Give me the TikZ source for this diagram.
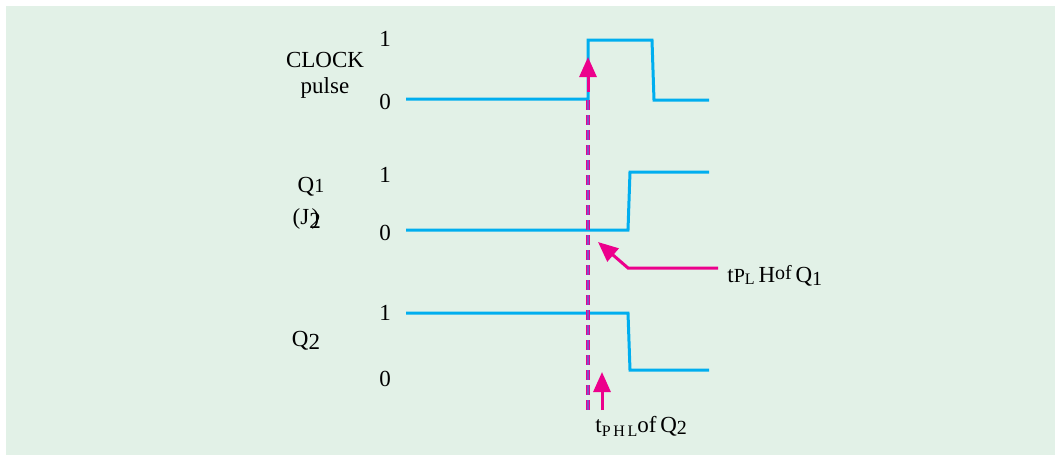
\documentclass[tikz,border=0pt]{standalone}
\usepackage{fontspec}
\setmainfont{Liberation Serif}
\usetikzlibrary{arrows.meta}
\definecolor{bg}{RGB}{226,241,231}
\definecolor{wave}{RGB}{0,174,239}
\definecolor{mag}{RGB}{236,0,140}
\definecolor{vio}{RGB}{130,80,200}
\newcommand{\smf}[1]{{\fontsize{8}{9}\selectfont #1}}
\newcommand{\mdf}[1]{{\fontsize{10}{11}\selectfont #1}}
\begin{document}
\begin{tikzpicture}[x=0.5pt,y=-0.5pt,
  lbl/.style={font=\fontsize{11.5}{13}\selectfont, inner sep=0pt},
  wavel/.style={wave, line width=1.5pt},
  marrow/.style={mag, line width=1.5pt, -{Triangle[width=8.5pt,length=10pt]}},
  dashmag/.style={mag, line width=1.6pt, dash pattern=on 5pt off 2.5pt},
  dashvio/.style={vio, line width=1pt, dash pattern=on 5pt off 2.5pt}]
\useasboundingbox (0,0) rectangle (1055,455);
\fill[bg] (6,6) rectangle (1055,455);
% labels
\node[lbl] (clk) at (325,60) {CLOCK};
\node[lbl] (pls) at (325,88) {pulse};
\node[lbl] (c1) at (385,39) {1};
\node[lbl] (c0) at (385,102) {0};
\node[lbl] (q1l) at (311,187) {Q\mdf{1}};
\node[lbl] (jl) at (306,219) {(J\raisebox{-0.35ex}{2}\kern-0.4em)};
\node[lbl] (a1) at (385,175) {1};
\node[lbl] (a0) at (385,233) {0};
\node[lbl] (q2l) at (306,341) {Q\raisebox{-0.3ex}{2}};
\node[lbl] (b1) at (385,313) {1};
\node[lbl] (b0) at (385,379) {0};
% waveforms
\draw[wavel] (406,99) -- (588,99) -- (588,40) -- (652,40) -- (654,100) -- (709,100);
\draw[wavel] (406,230) -- (628,230) -- (630,172) -- (709,172);
\draw[wavel] (406,313) -- (628,313) -- (630,370) -- (709,370);
% dashed reference
\coordinate (dtop) at (588,100);
\coordinate (dbot) at (588,413);
\draw[dashmag] (dtop) -- (dbot);
\draw[dashvio] (dtop) -- (dbot);
% arrows
\coordinate (ca0) at (588,92);
\coordinate (ca1) at (588,57);
\draw[marrow] (ca0) -- (ca1);
\coordinate (ra0) at (718,268);
\coordinate (ra1) at (628,268);
\coordinate (ra2) at (598,242);
\draw[marrow] (ra0) -- (ra1) -- (ra2);
\coordinate (ba0) at (602,410);
\coordinate (ba1) at (602,372);
\draw[marrow] (ba0) -- (ba1);
% annotation texts
\node[lbl, anchor=base west] (tplh) at (727,282) {t\mdf{P}\raisebox{-0.2ex}{\smf{L}}\,H\raisebox{0.2ex}{\mdf{of}}\,Q\raisebox{-0.3ex}{\mdf{1}}};
\node[lbl, anchor=base west] (tphl) at (595,432) {t\raisebox{-0.4ex}{\smf{P\,H\,L}}of\,Q\raisebox{-0.2ex}{\mdf{2}}};
\end{tikzpicture}
\end{document}
